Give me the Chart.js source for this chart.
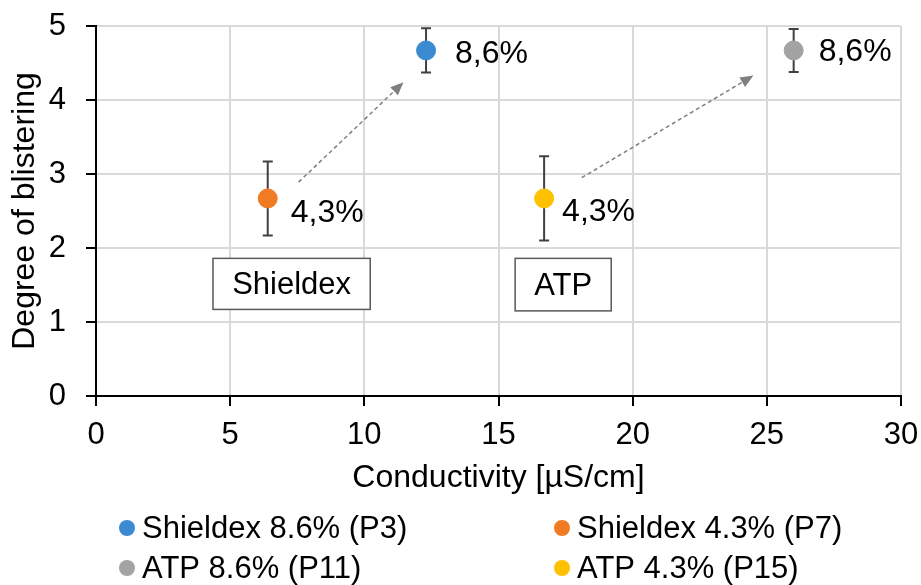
<!DOCTYPE html>
<html>
<head>
<meta charset="utf-8">
<script src="https://cdn.jsdelivr.net/npm/chart.js@4/dist/chart.umd.min.js"></script>
<style>
  html, body { margin: 0; padding: 0; background: #ffffff; }
  canvas { display: block; }
</style>
</head>
<body>
<canvas id="chart" width="921" height="585"></canvas>
<script>
// Series: paint variants (conductivity vs. degree of blistering)
const seriesNames = ['Shieldex 8.6% (P3)', 'Shieldex 4.3% (P7)', 'ATP 8.6% (P11)', 'ATP 4.3% (P15)'];
const conductivity = [12.3, 6.4, 26.0, 16.7];
const blistering = [4.67, 2.67, 4.67, 2.67];
const blisteringError = [0.3, 0.5, 0.29, 0.57];
const pointLabels = ['8,6%', '4,3%', '8,6%', '4,3%'];
const seriesColors = ['#3C8AD1', '#F07B22', '#A3A3A3', '#FFC000'];

// Group captions and trend arrows, placed in data units
const groupNames = ['Shieldex', 'ATP'];
const groupBoxX = [[4.36, 10.22], [15.62, 19.2]];
const groupBoxY = [[1.17, 1.86], [1.15, 1.86]];
const arrowFrom = [[7.55, 2.89], [18.1, 2.95]];
const arrowTo = [[11.46, 4.24], [24.5, 4.33]];

const FONT = '"Liberation Sans", Arial, sans-serif';
Chart.defaults.font.family = FONT;
Chart.defaults.color = '#000000';

// label offsets (px) relative to each point
const labelOffsets = [[29, 4], [23, 15], [25, 2], [18, 14]];

const datasets = seriesNames.map((name, i) => ({
  label: name,
  data: [{ x: conductivity[i], y: blistering[i] }],
  backgroundColor: seriesColors[i],
  borderColor: seriesColors[i],
  borderWidth: 1,
  pointRadius: 9.5,
  pointHoverRadius: 9.5
}));

const errorBarPlugin = {
  id: 'errorBars',
  beforeDatasetsDraw(chart) {
    const { ctx, scales: { x, y } } = chart;
    ctx.save();
    ctx.strokeStyle = '#404040';
    ctx.lineWidth = 2;
    datasets.forEach((ds, i) => {
      const px = x.getPixelForValue(conductivity[i]);
      const top = y.getPixelForValue(blistering[i] + blisteringError[i]);
      const bot = y.getPixelForValue(blistering[i] - blisteringError[i]);
      ctx.beginPath();
      ctx.moveTo(px, top); ctx.lineTo(px, bot);
      ctx.moveTo(px - 5, top); ctx.lineTo(px + 5, top);
      ctx.moveTo(px - 5, bot); ctx.lineTo(px + 5, bot);
      ctx.stroke();
    });
    // dashed trend arrows
    ctx.strokeStyle = '#7F7F7F';
    ctx.fillStyle = '#7F7F7F';
    ctx.lineWidth = 1.5;
    arrowFrom.forEach((f, i) => {
      const x0 = x.getPixelForValue(f[0]), y0 = y.getPixelForValue(f[1]);
      const x1 = x.getPixelForValue(arrowTo[i][0]), y1 = y.getPixelForValue(arrowTo[i][1]);
      const ang = Math.atan2(y1 - y0, x1 - x0);
      const headLen = 13, headW = 5.5;
      const bx = x1 - headLen * Math.cos(ang), by = y1 - headLen * Math.sin(ang);
      ctx.setLineDash([4, 3]);
      ctx.beginPath();
      ctx.moveTo(x0, y0); ctx.lineTo(bx, by);
      ctx.stroke();
      ctx.setLineDash([]);
      ctx.beginPath();
      ctx.moveTo(x1, y1);
      ctx.lineTo(bx + headW * Math.sin(ang), by - headW * Math.cos(ang));
      ctx.lineTo(bx - headW * Math.sin(ang), by + headW * Math.cos(ang));
      ctx.closePath();
      ctx.fill();
    });
    ctx.restore();
  }
};

const annotationPlugin = {
  id: 'annotations',
  afterDatasetsDraw(chart) {
    const { ctx, scales: { x, y } } = chart;
    ctx.save();
    // value labels next to the points
    ctx.font = '32px ' + FONT;
    ctx.fillStyle = '#000000';
    ctx.textAlign = 'left';
    ctx.textBaseline = 'middle';
    pointLabels.forEach((t, i) => {
      const px = x.getPixelForValue(conductivity[i]);
      const py = y.getPixelForValue(blistering[i]);
      ctx.fillText(t, px + labelOffsets[i][0], py + labelOffsets[i][1]);
    });
    // group caption boxes
    ctx.font = '31px ' + FONT;
    groupNames.forEach((t, i) => {
      const l = x.getPixelForValue(groupBoxX[i][0]);
      const r = x.getPixelForValue(groupBoxX[i][1]);
      const tp = y.getPixelForValue(groupBoxY[i][1]);
      const bt = y.getPixelForValue(groupBoxY[i][0]);
      ctx.fillStyle = '#ffffff';
      ctx.fillRect(l, tp, r - l, bt - tp);
      ctx.strokeStyle = '#595959';
      ctx.lineWidth = 1.5;
      ctx.strokeRect(l, tp, r - l, bt - tp);
      ctx.fillStyle = '#000000';
      ctx.textAlign = 'center';
      ctx.fillText(t, (l + r) / 2, (tp + bt) / 2 + 2);
    });
    ctx.restore();
  }
};

const legendPlugin = {
  id: 'twoColumnLegend',
  afterDraw(chart) {
    const { ctx } = chart;
    const cols = [127, 562];
    const rows = [528, 568];
    ctx.save();
    ctx.font = '31px ' + FONT;
    ctx.textAlign = 'left';
    ctx.textBaseline = 'middle';
    chart.data.datasets.forEach((ds, i) => {
      const cx = cols[i % 2], cy = rows[Math.floor(i / 2)];
      ctx.fillStyle = ds.backgroundColor;
      ctx.beginPath();
      ctx.arc(cx, cy, 8, 0, Math.PI * 2);
      ctx.fill();
      ctx.fillStyle = '#000000';
      ctx.fillText(ds.label, cx + 15, cy + 1);
    });
    ctx.restore();
  }
};

// fixed axis box sizes; no extra overflow padding around the plot
function fixAxis(size) {
  return function (scale) {
    if (scale.isHorizontal()) scale.height = size; else scale.width = size;
    scale.paddingTop = 0; scale.paddingBottom = 0;
    scale.paddingLeft = 0; scale.paddingRight = 0;
  };
}

new Chart(document.getElementById('chart'), {
  type: 'scatter',
  data: { datasets },
  options: {
    responsive: false,
    animation: false,
    events: [],
    layout: { padding: { left: 0, right: 20, top: 26, bottom: 88 } },
    plugins: { legend: { display: false }, tooltip: { enabled: false } },
    scales: {
      x: {
        type: 'linear', min: 0, max: 30,
        ticks: { stepSize: 5, padding: 11, font: { size: 31 }, color: '#000' },
        grid: { color: '#D9D9D9', lineWidth: 2, tickColor: '#000', tickLength: 10, tickWidth: 2 },
        border: { color: '#000', width: 2 },
        title: { display: true, text: 'Conductivity [µS/cm]', font: { size: 32 }, color: '#000', padding: { top: 0, bottom: 0 } },
        afterFit: fixAxis(101)
      },
      y: {
        type: 'linear', min: 0, max: 5,
        ticks: { stepSize: 1, padding: 20, font: { size: 31 }, color: '#000' },
        grid: { color: '#D9D9D9', lineWidth: 2, tickColor: '#000', tickLength: 10, tickWidth: 2 },
        border: { color: '#000', width: 2 },
        title: { display: true, text: 'Degree of blistering', font: { size: 32 }, color: '#000', padding: { top: 6, bottom: 0 } },
        afterFit: fixAxis(96)
      }
    }
  },
  plugins: [errorBarPlugin, annotationPlugin, legendPlugin]
});
</script>
</body>
</html>
